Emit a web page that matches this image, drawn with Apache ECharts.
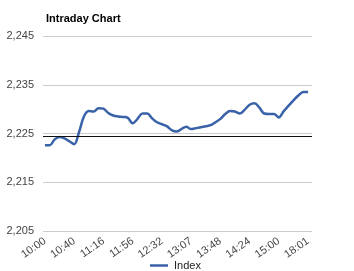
<!DOCTYPE html>
<html>
<head>
<meta charset="utf-8">
<script src="https://cdn.jsdelivr.net/npm/echarts@6/dist/echarts.min.js"></script>
<style>html,body{margin:0;padding:0;background:#fff}#c{width:354px;height:271px}</style>
</head>
<body>
<div id="c"></div>
<script>
var tickLabels = ['10:00','10:40','11:16','11:56','12:32','13:07','13:48','14:24','15:00','18:01'];
var pointsPerTick = 6;
var indexValues = [
 2222.6,2222.6,2223.8,2224.3,2224.0,2223.4,2222.8,2225.3,2228.5,2229.6,
 2229.5,2230.2,2230.1,2229.2,2228.7,2228.5,2228.4,2228.2,2227.1,2228.0,
 2229.1,2229.1,2228.1,2227.3,2226.9,2226.5,2225.7,2225.4,2225.9,2226.4,
 2225.9,2226.1,2226.3,2226.5,2226.7,2227.3,2228.0,2229.0,2229.6,2229.5,
 2229.1,2229.9,2230.9,2231.2,2230.3,2229.1,2229.0,2229.0,2228.3,2229.6,
 2230.7,2231.8,2232.8,2233.5,2233.5
];
var referenceLevel = 2224.5;
var yTicks = [2205, 2215, 2225, 2235, 2245];

var seriesData = indexValues.map(function(v, i){ return [i, v]; });
var tickPositions = tickLabels.map(function(_, k){ return k * pointsPerTick; });

var chart = echarts.init(document.getElementById('c'), null, {renderer:'canvas'});
chart.setOption({
  animation: false,
  title: {
    text: 'Intraday Chart', left: 41, top: 8,
    textStyle: {fontFamily:'Liberation Sans, Arial, sans-serif', fontSize: 11, fontWeight: 'bold', color: '#000'}
  },
  legend: {
    data: ['Index'], left: 150, top: 260, padding: 0,
    icon: 'rect', itemWidth: 18, itemHeight: 2.5, itemGap: 4,
    textStyle: {fontFamily:'Liberation Sans, Arial, sans-serif', fontSize: 11, color: '#222', padding:[0,0,0,1]}
  },
  grid: {left: 43, right: 42, top: 36, bottom: 40, containLabel: false},
  xAxis: {
    type: 'value', min: -0.4, max: indexValues.length - 1 + 0.8,
    axisLine: {show: false}, axisTick: {show: false}, splitLine: {show: false},
    axisLabel: {
      customValues: tickPositions, rotate: 35, margin: 9,
      fontFamily:'Liberation Sans, Arial, sans-serif', fontSize: 11, color: '#444',
      formatter: function(v){ var k = Math.round(v / pointsPerTick); return tickLabels[k] || ''; }
    }
  },
  yAxis: {
    type: 'value', min: yTicks[0], max: yTicks[yTicks.length-1], interval: 10,
    axisLine: {show: false}, axisTick: {show: false},
    splitLine: {lineStyle: {color: '#cccccc', width: 1}},
    axisLabel: {
      margin: 9, fontFamily:'Liberation Sans, Arial, sans-serif', fontSize: 11, color: '#444',
      formatter: function(v){ return v.toLocaleString('en-US'); }
    }
  },
  series: [{
    name: 'Index', type: 'line', data: seriesData, smooth: 0.35,
    showSymbol: false, symbol: 'none',
    lineStyle: {color: '#3a62a8', width: 2.5},
    itemStyle: {color: '#3a62a8'},
    markLine: {
      silent: true, symbol: ['none','none'], label: {show: false},
      lineStyle: {color: '#111', width: 1.2, type: 'solid'},
      data: [{yAxis: referenceLevel}]
    },
    z: 3
  }]
});
</script>
</body>
</html>
